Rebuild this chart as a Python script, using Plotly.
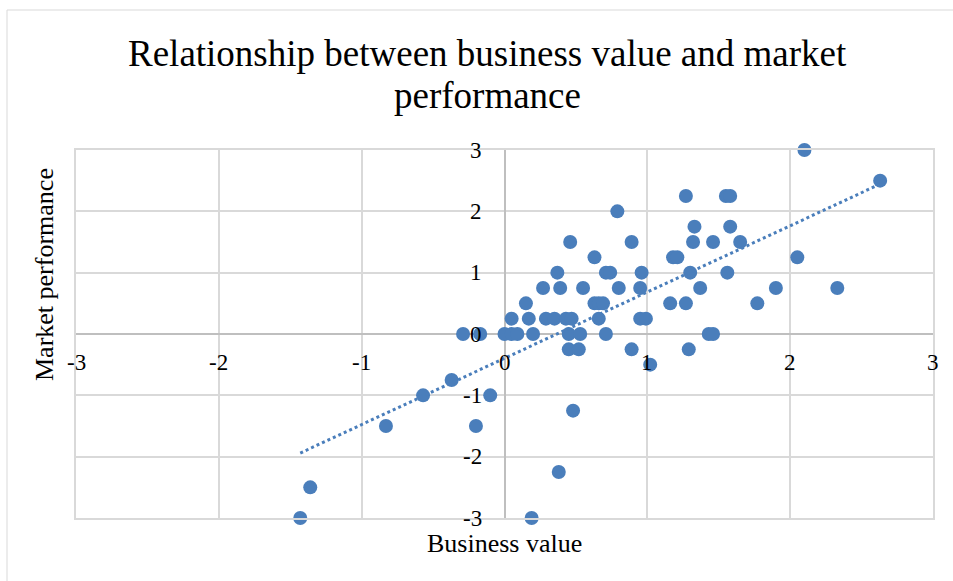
import numpy as np
import plotly.graph_objects as go

# Data
business_value = [-1.43, -1.36, -0.83, -0.57, -0.37, -0.29, -0.17, -0.20, -0.10,
                  0.00, 0.05, 0.09, 0.05, 0.15, 0.17, 0.20, 0.27, 0.29, 0.35, 0.37,
                  0.39, 0.43, 0.47, 0.46, 0.45, 0.53, 0.45, 0.52, 0.55, 0.48, 0.38,
                  0.19, 0.63, 0.66, 0.69, 0.63, 0.66, 0.71, 0.71, 0.74, 0.79, 0.80,
                  0.89, 0.89, 0.95, 0.96, 0.95, 0.99, 1.02, 1.16, 1.18, 1.21, 1.27,
                  1.27, 1.29, 1.30, 1.32, 1.33, 1.37, 1.43, 1.46, 1.46, 1.55, 1.58,
                  1.56, 1.58, 1.65, 1.77, 1.90, 2.05, 2.10, 2.33, 2.63]
market_performance = [-3.00, -2.50, -1.50, -1.00, -0.75, 0.00, 0.00, -1.50, -1.00,
                      0.00, 0.00, 0.00, 0.25, 0.50, 0.25, 0.00, 0.75, 0.25, 0.25, 1.00,
                      0.75, 0.25, 0.25, 1.50, 0.00, 0.00, -0.25, -0.25, 0.75, -1.25, -2.25,
                      -3.00, 0.50, 0.50, 0.50, 1.25, 0.25, 0.00, 1.00, 1.00, 2.00, 0.75,
                      1.50, -0.25, 0.75, 1.00, 0.25, 0.25, -0.50, 0.50, 1.25, 1.25, 2.25,
                      0.50, -0.25, 1.00, 1.50, 1.75, 0.75, 0.00, 0.00, 1.50, 2.25, 2.25,
                      1.00, 1.75, 1.50, 0.50, 0.75, 1.25, 3.00, 0.75, 2.50]
x_ticks = [-3, -2, -1, 0, 1, 2, 3]
y_ticks = [-3, -2, -1, 0, 1, 2, 3]

title_lines = ["Relationship between business value and market", "performance"]
x_title = "Business value"
y_title = "Market performance"

BLUE = "#4a7ebb"
FONT = "Liberation Serif, Times New Roman, serif"

fig = go.Figure()
fig.add_trace(go.Scatter(
    x=business_value, y=market_performance, mode="markers",
    marker=dict(size=14, color=BLUE), name="Data", hoverinfo="x+y",
    cliponaxis=False))

slope, intercept = np.polyfit(business_value, market_performance, 1)
xs = [min(business_value), max(business_value)]
fig.add_trace(go.Scatter(
    x=xs, y=[slope * v + intercept for v in xs], mode="lines",
    line=dict(color=BLUE, width=3, dash="dot"), name="Linear trend", hoverinfo="skip",
    cliponaxis=False))

axis_common = dict(
    range=[-3, 3], dtick=1, tick0=0, showticklabels=False, ticks="",
    showgrid=True, gridcolor="#d9d9d9", gridwidth=1.5,
    zeroline=True, zerolinecolor="#bfbfbf", zerolinewidth=1.5,
    showline=True, linecolor="#d9d9d9", linewidth=1.5, mirror=True,
    fixedrange=True)

fig.update_layout(
    width=953, height=581,
    margin=dict(l=76, r=20, t=150, b=63),
    paper_bgcolor="white", plot_bgcolor="white",
    showlegend=False,
    font=dict(family=FONT, color="black"),
    xaxis=axis_common, yaxis=axis_common,
)

annotations = []
for v in x_ticks:
    annotations.append(dict(x=v, y=0, xref="x", yref="y", text=str(v), showarrow=False,
                            yshift=-28, xanchor="center", yanchor="middle",
                            font=dict(size=23, family=FONT, color="black")))
for v in y_ticks:
    annotations.append(dict(x=0, y=v, xref="x", yref="y", text=str(v), showarrow=False,
                            xshift=-21, xanchor="right", yanchor="middle",
                            font=dict(size=23, family=FONT, color="black")))

# Title lines
annotations.append(dict(x=(487.5 - 76) / 857, y=(518 - 53) / 368, xref="paper", yref="paper",
                        text=title_lines[0], showarrow=False, xanchor="center", yanchor="middle",
                        font=dict(size=37, family=FONT, color="black")))
annotations.append(dict(x=(487.5 - 76) / 857, y=(518 - 95) / 368, xref="paper", yref="paper",
                        text=title_lines[1], showarrow=False, xanchor="center", yanchor="middle",
                        font=dict(size=37, family=FONT, color="black")))
# Axis titles
annotations.append(dict(x=(505 - 76) / 857, y=(518 - 543) / 368, xref="paper", yref="paper",
                        text=x_title, showarrow=False, xanchor="center", yanchor="middle",
                        font=dict(size=26, family=FONT, color="black")))
annotations.append(dict(x=(44 - 76) / 857, y=(518 - 275) / 368, xref="paper", yref="paper",
                        text=y_title, showarrow=False, textangle=-90, xanchor="center", yanchor="middle",
                        font=dict(size=26, family=FONT, color="black")))
fig.update_layout(annotations=annotations)

# Chart area border
fig.add_shape(type="rect", xref="paper", yref="paper",
              x0=(7 - 76) / 857, x1=(975 - 76) / 857, y0=(518 - 600) / 368, y1=(518 - 10) / 368,
              line=dict(color="#d9d9d9", width=1), fillcolor="rgba(0,0,0,0)", layer="below")

fig.write_html("out.html", config={"displayModeBar": False},
               post_script="document.body.style.margin='0';document.body.style.overflow='hidden';")
